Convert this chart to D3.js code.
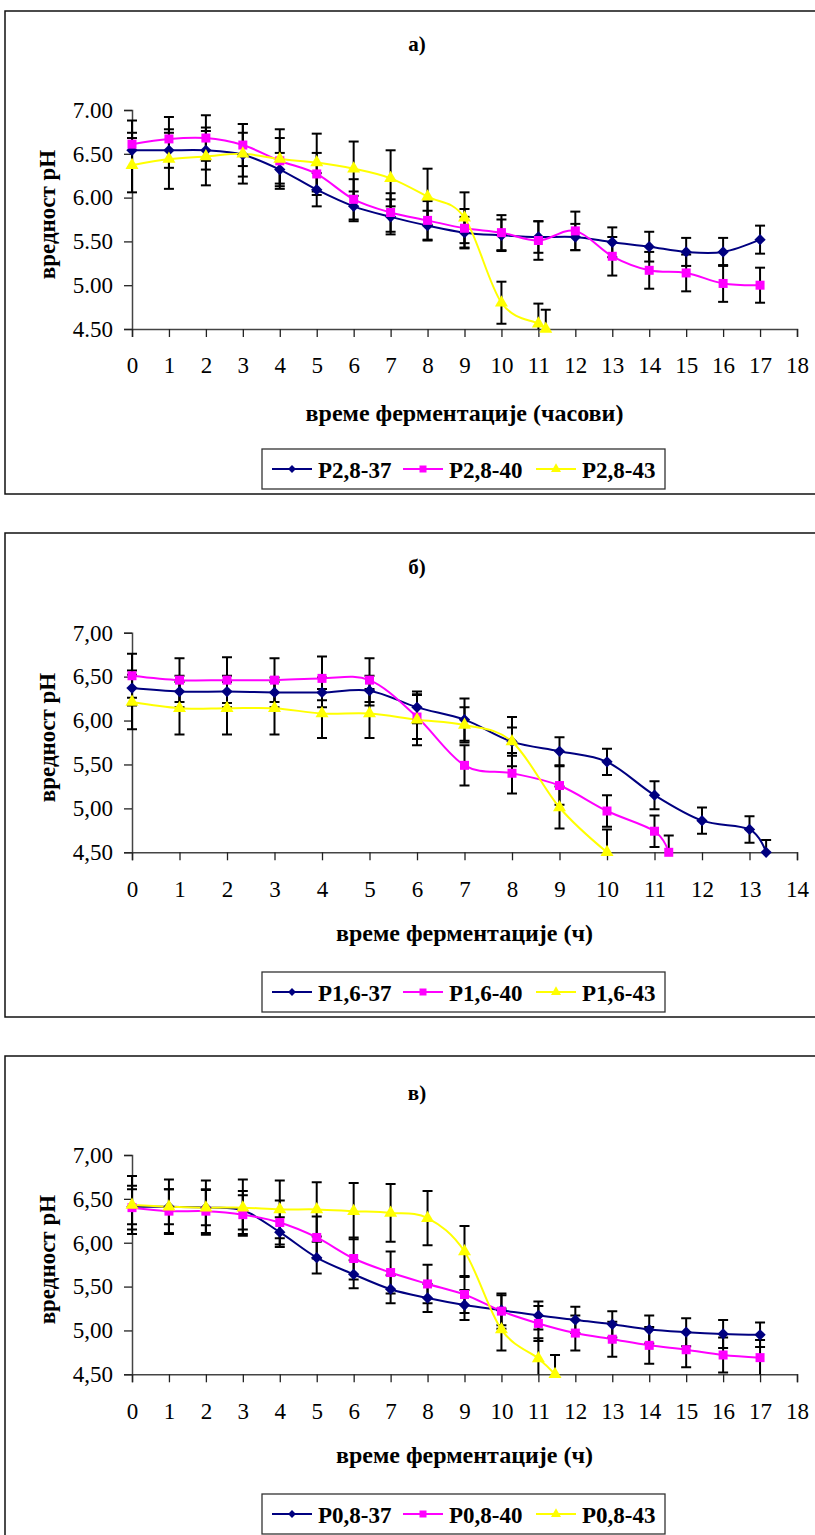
<!DOCTYPE html>
<html>
<head>
<meta charset="utf-8">
<script src="https://cdn.jsdelivr.net/npm/d3@7"></script>
<style>
  body { margin: 0; background: #fff; }
</style>
</head>
<body>
<div id="chart"></div>
<script>
// pH during fermentation, three panels (а, б, в), three temperatures each
var serif = 'Liberation Serif, Times New Roman, serif';
var hours18 = [0,1,2,3,4,5,6,7,8,9,10,11,12,13,14,15,16,17];

// panel а)
var a37x = hours18;
var a37 = [6.54,6.54,6.54,6.49,6.32,6.09,5.90,5.78,5.68,5.60,5.57,5.55,5.55,5.49,5.44,5.38,5.38,5.52];
var a37err = [0.20,0.20,0.22,0.25,0.19,0.19,0.17,0.20,0.17,0.18,0.18,0.18,0.15,0.17,0.17,0.16,0.16,0.16];
var a40x = hours18;
var a40 = [6.61,6.67,6.68,6.60,6.42,6.27,5.98,5.83,5.74,5.65,5.60,5.51,5.62,5.33,5.17,5.14,5.02,5.00];
var a40err = [0.27,0.25,0.26,0.24,0.26,0.24,0.23,0.22,0.22,0.22,0.20,0.22,0.22,0.22,0.21,0.21,0.21,0.20];
var a43x = [0,1,2,3,4,5,6,7,8,9,10,11,11.2];
var a43 = [6.37,6.44,6.47,6.50,6.44,6.40,6.33,6.22,6.01,5.77,4.80,4.56,4.50];
var a43err = [0.31,0.34,0.33,0.34,0.34,0.33,0.31,0.32,0.32,0.29,0.24,0.23,0.22];

// panel б)
var b37x = [0,1,2,3,4,5,6,7,8,9,10,11,12,13,13.35];
var b37 = [6.37,6.33,6.33,6.32,6.32,6.34,6.15,6.01,5.76,5.65,5.53,5.15,4.86,4.76,4.50];
var b37err = [0.20,0.18,0.18,0.17,0.17,0.17,0.18,0.24,0.28,0.16,0.15,0.16,0.15,0.15,0.14];
var b40x = [0,1,2,3,4,5,6,7,8,9,10,11,11.3];
var b40 = [6.51,6.46,6.46,6.46,6.48,6.46,6.04,5.49,5.40,5.26,4.97,4.74,4.50];
var b40err = [0.25,0.25,0.26,0.25,0.25,0.25,0.25,0.23,0.23,0.22,0.18,0.18,0.19];
var b43x = [0,1,2,3,4,5,6,7,8,9,10];
var b43 = [6.21,6.14,6.14,6.14,6.08,6.08,6.01,5.95,5.76,5.01,4.50];
var b43err = [0.31,0.30,0.30,0.30,0.28,0.28,0.29,0.20,0.16,0.24,0.26];

// panel в)
var c37x = hours18;
var c37 = [6.41,6.41,6.40,6.37,6.12,5.83,5.64,5.47,5.37,5.29,5.23,5.17,5.12,5.07,5.01,4.98,4.96,4.95];
var c37err = [0.20,0.20,0.20,0.22,0.17,0.18,0.16,0.16,0.16,0.17,0.17,0.16,0.15,0.15,0.16,0.16,0.16,0.14];
var c40x = hours18;
var c40 = [6.40,6.36,6.36,6.32,6.23,6.06,5.82,5.66,5.53,5.41,5.22,5.08,4.97,4.90,4.83,4.78,4.72,4.69];
var c40err = [0.25,0.25,0.25,0.22,0.25,0.24,0.24,0.24,0.22,0.21,0.20,0.20,0.20,0.20,0.21,0.20,0.20,0.20];
var c43x = [0,1,2,3,4,5,6,7,8,9,10,11,11.45];
var c43 = [6.43,6.41,6.40,6.40,6.38,6.38,6.36,6.34,6.28,5.90,5.01,4.68,4.50];
var c43err = [0.33,0.31,0.31,0.32,0.33,0.31,0.32,0.33,0.31,0.29,0.24,0.23,0.22];

var yTicks = [4.5,5.0,5.5,6.0,6.5,7.0];
var seriesColors = ['#000080','#FF00FF','#FFFF00'];
var seriesShapes = ['diamond','square','triangle'];

var panels = [
  { title: 'а)', xTitle: 'време ферментације (часови)', xMax: 18, dec: '.',
    names: ['P2,8-37','P2,8-40','P2,8-43'],
    xs: [a37x,a40x,a43x], ys: [a37,a40,a43], errs: [a37err,a40err,a43err],
    box: [5, 11, 494], plotTop: 110, plotBottom: 329, titleY: 44, xTitleY: 413, legendY: 449 },
  { title: 'б)', xTitle: 'време ферментације (ч)', xMax: 14, dec: ',',
    names: ['P1,6-37','P1,6-40','P1,6-43'],
    xs: [b37x,b40x,b43x], ys: [b37,b40,b43], errs: [b37err,b40err,b43err],
    box: [5, 533, 1017], plotTop: 632.7, plotBottom: 852.3, titleY: 567, xTitleY: 933, legendY: 972 },
  { title: 'в)', xTitle: 'време ферментације (ч)', xMax: 18, dec: ',',
    names: ['P0,8-37','P0,8-40','P0,8-43'],
    xs: [c37x,c40x,c43x], ys: [c37,c40,c43], errs: [c37err,c40err,c43err],
    box: [5, 1056, 1545], plotTop: 1155, plotBottom: 1374.3, titleY: 1093, xTitleY: 1455, legendY: 1494 }
];

var svg = d3.select('#chart').append('svg')
  .attr('width', 815)
  .attr('height', 1535);

function marker(shape, s) {
  if (shape === 'triangle') return d3.symbol(d3.symbolTriangle, s * s * 0.433)();
  return d3.symbol(d3.symbolSquare, s * s)();
}

panels.forEach(function(p, pi) {
  var g = svg.append('g');
  var plotLeft = 132, plotRight = 797;

  // outer frame (runs past the right edge, as in the original)
  g.append('rect')
    .attr('x', p.box[0]).attr('y', p.box[1])
    .attr('width', 840).attr('height', p.box[2] - p.box[1])
    .attr('fill', 'none').attr('stroke', '#111').attr('stroke-width', 1.5);

  var x = d3.scaleLinear().domain([0, p.xMax]).range([plotLeft, plotRight]);
  var y = d3.scaleLinear().domain([4.5, 7]).range([p.plotBottom, p.plotTop]);

  var fmt = function(v) { return d3.format('.2f')(v).replace('.', p.dec); };

  var yAxis = d3.axisLeft(y).tickValues(yTicks).tickFormat(fmt).tickSize(8).tickPadding(11);
  var xAxis = d3.axisBottom(x).ticks(p.xMax).tickFormat(d3.format('d')).tickSize(8).tickPadding(20);

  var ya = g.append('g').attr('transform', 'translate(' + plotLeft + ',0)').call(yAxis);
  var xa = g.append('g').attr('transform', 'translate(0,' + p.plotBottom + ')').call(xAxis);
  [ya, xa].forEach(function(a) {
    a.attr('font-family', serif).attr('font-size', 23);
    a.select('.domain').attr('stroke', '#444').attr('stroke-width', 1.5);
    a.selectAll('.tick line').attr('stroke', '#222').attr('stroke-width', 1.3);
    a.selectAll('.tick text').attr('fill', '#000');
  });

  // titles
  g.append('text').attr('x', 417).attr('y', p.titleY)
    .attr('text-anchor', 'middle').attr('dominant-baseline', 'central')
    .attr('font-family', serif).attr('font-size', 21).attr('font-weight', 'bold').text(p.title);

  g.append('text')
    .attr('transform', 'translate(47,' + ((p.plotTop + p.plotBottom) / 2 - 5) + ') rotate(-90)')
    .attr('text-anchor', 'middle').attr('dominant-baseline', 'central')
    .attr('font-family', serif).attr('font-size', 23).attr('font-weight', 'bold').text('вредност pH');

  g.append('text').attr('x', (plotLeft + plotRight) / 2).attr('y', p.xTitleY)
    .attr('text-anchor', 'middle').attr('dominant-baseline', 'central')
    .attr('font-family', serif).attr('font-size', 24).attr('font-weight', 'bold').text(p.xTitle);

  // clip for error bars
  var clipId = 'clip' + pi;
  svg.append('clipPath').attr('id', clipId).append('rect')
    .attr('x', plotLeft - 10).attr('y', p.plotTop)
    .attr('width', plotRight - plotLeft + 20).attr('height', p.plotBottom - p.plotTop);

  var eb = g.append('g').attr('clip-path', 'url(#' + clipId + ')');
  p.ys.forEach(function(ys, si) {
    var pts = ys.map(function(v, i) { return { x: p.xs[si][i], y: v, e: p.errs[si][i] }; });
    var bars = eb.append('g').selectAll('g').data(pts).enter().append('g')
      .attr('stroke', '#000').attr('stroke-width', 2);
    bars.append('line')
      .attr('x1', function(d) { return x(d.x); }).attr('x2', function(d) { return x(d.x); })
      .attr('y1', function(d) { return y(d.y + d.e); }).attr('y2', function(d) { return y(d.y - d.e); });
    bars.append('line')
      .attr('x1', function(d) { return x(d.x) - 5; }).attr('x2', function(d) { return x(d.x) + 5; })
      .attr('y1', function(d) { return y(d.y + d.e); }).attr('y2', function(d) { return y(d.y + d.e); });
    bars.append('line')
      .attr('x1', function(d) { return x(d.x) - 5; }).attr('x2', function(d) { return x(d.x) + 5; })
      .attr('y1', function(d) { return y(d.y - d.e); }).attr('y2', function(d) { return y(d.y - d.e); });
  });

  var line = d3.line()
    .x(function(d) { return x(d.x); })
    .y(function(d) { return y(d.y); })
    .curve(d3.curveCatmullRom.alpha(0));

  p.ys.forEach(function(ys, si) {
    var pts = ys.map(function(v, i) { return { x: p.xs[si][i], y: v }; });
    g.append('path').datum(pts)
      .attr('d', line).attr('fill', 'none')
      .attr('stroke', seriesColors[si]).attr('stroke-width', 2);
  });

  p.ys.forEach(function(ys, si) {
    var pts = ys.map(function(v, i) { return { x: p.xs[si][i], y: v }; });
    var shape = seriesShapes[si];
    var size = shape === 'diamond' ? 8 : shape === 'square' ? 9 : 13;
    g.append('g').selectAll('path').data(pts).enter().append('path')
      .attr('d', marker(shape, size))
      .attr('transform', function(d) {
        return 'translate(' + x(d.x) + ',' + y(d.y) + ')' + (shape === 'diamond' ? ' rotate(45)' : '');
      })
      .attr('fill', seriesColors[si]);
  });

  // legend
  var lg = g.append('g').attr('transform', 'translate(262,' + p.legendY + ')');
  lg.append('rect').attr('width', 403).attr('height', 40)
    .attr('fill', '#fff').attr('stroke', '#333').attr('stroke-width', 1.3);
  var offs = [10, 141, 274];
  p.names.forEach(function(n, si) {
    var it = lg.append('g').attr('transform', 'translate(' + offs[si] + ',20)');
    it.append('line').attr('x1', 0).attr('x2', 40)
      .attr('stroke', seriesColors[si]).attr('stroke-width', 2);
    var shape = seriesShapes[si];
    var size = shape === 'diamond' ? 5.5 : shape === 'square' ? 7 : 10;
    it.append('path').attr('d', marker(shape, size))
      .attr('transform', 'translate(20,0)' + (shape === 'diamond' ? ' rotate(45)' : ''))
      .attr('fill', seriesColors[si]);
    it.append('text').attr('x', 46).attr('y', 1)
      .attr('dominant-baseline', 'central')
      .attr('font-family', serif).attr('font-size', 23).attr('font-weight', 'bold').text(n);
  });
});
</script>
</body>
</html>
